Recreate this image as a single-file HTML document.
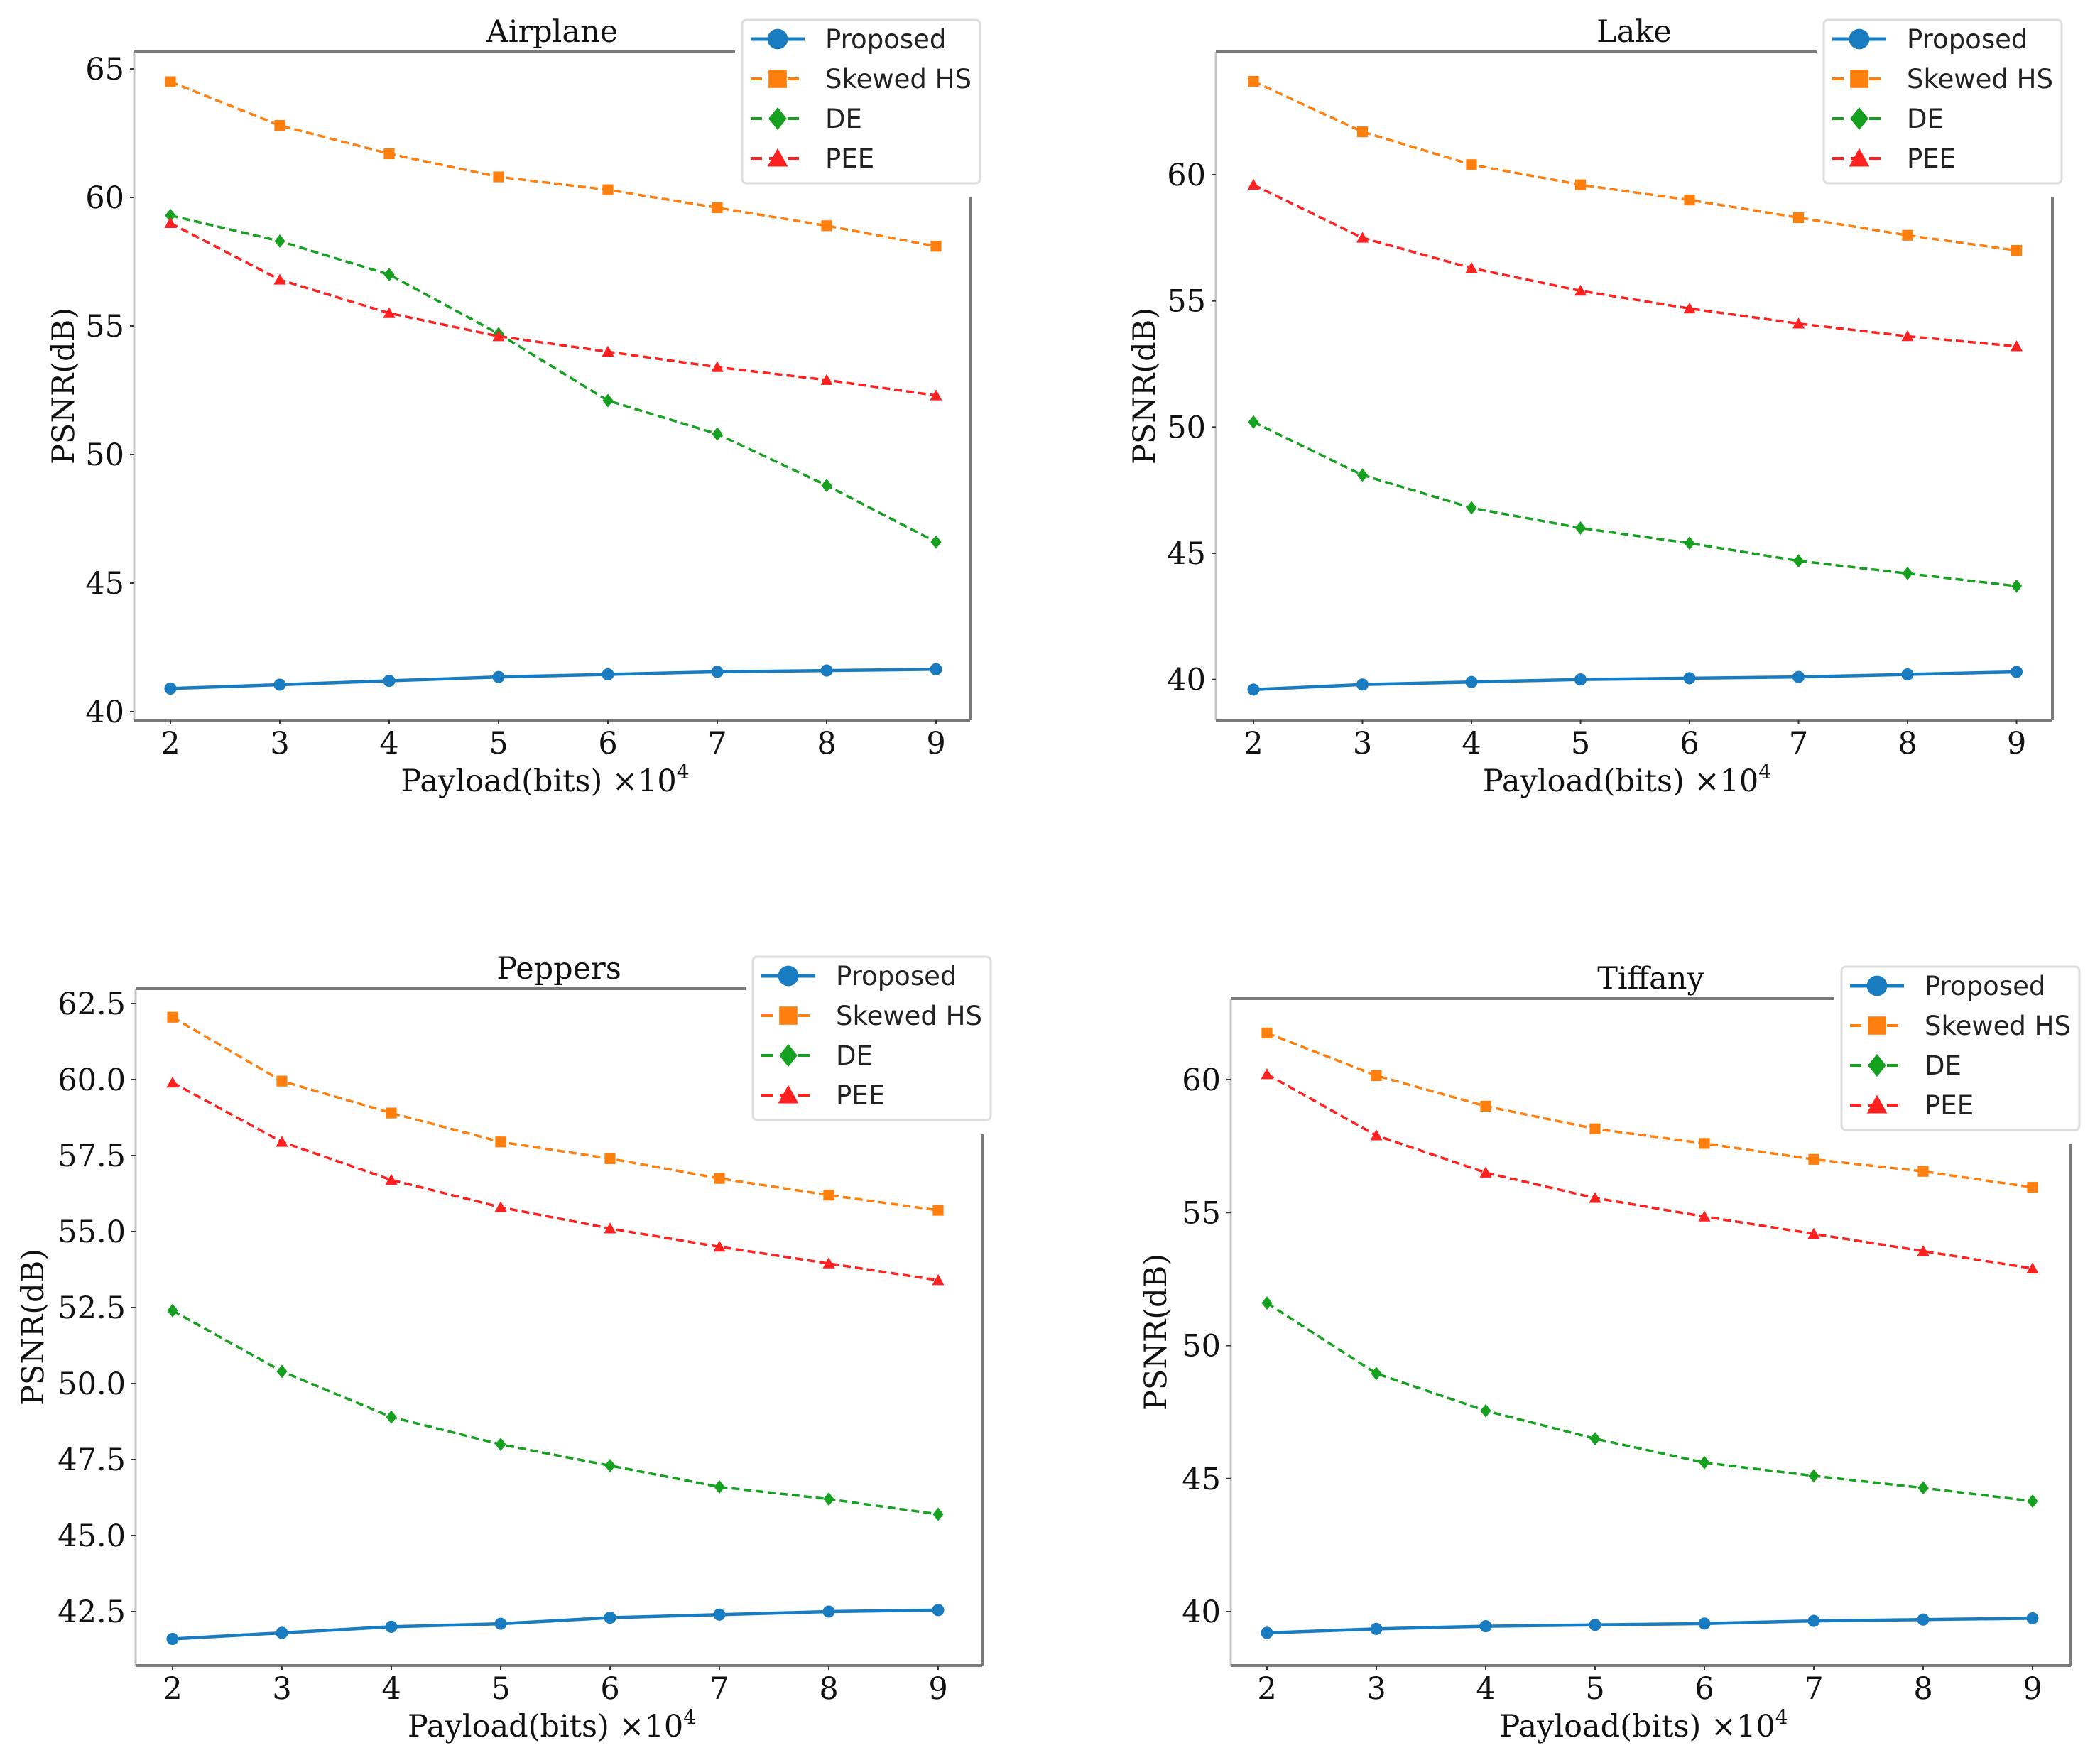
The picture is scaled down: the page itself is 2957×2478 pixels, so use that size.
<!DOCTYPE html>
<html><head><meta charset="utf-8"><style>
html,body{margin:0;padding:0;background:#fff}
svg{display:block}
.tick{font-family:"DejaVu Serif","Liberation Serif",serif;font-size:43px;fill:#111}
.lab{font-family:"DejaVu Serif","Liberation Serif",serif;font-size:43px;fill:#111}
.leg{font-family:"DejaVu Sans","Liberation Sans",sans-serif;font-size:37px;fill:#222}
</style></head><body>
<svg id="fig" xmlns="http://www.w3.org/2000/svg" width="2957" height="2478" viewBox="0 0 2957 2478"></svg>
<script>
const payloads=[2,3,4,5,6,7,8,9];
const seriesNames=["Proposed","Skewed HS","DE","PEE"];
const airplaneProposed=[40.9,41.05,41.2,41.35,41.45,41.55,41.6,41.65];
const airplaneSkewed=[64.5,62.8,61.7,60.8,60.3,59.6,58.9,58.1];
const airplaneDE=[59.3,58.3,57.0,54.7,52.1,50.8,48.8,46.6];
const airplanePEE=[59.0,56.8,55.5,54.6,54.0,53.4,52.9,52.3];
const lakeProposed=[39.6,39.8,39.9,40.0,40.05,40.1,40.2,40.3];
const lakeSkewed=[63.7,61.7,60.4,59.6,59.0,58.3,57.6,57.0];
const lakeDE=[50.2,48.1,46.8,46.0,45.4,44.7,44.2,43.7];
const lakePEE=[59.6,57.5,56.3,55.4,54.7,54.1,53.6,53.2];
const peppersProposed=[41.6,41.8,42.0,42.1,42.3,42.4,42.5,42.55];
const peppersSkewed=[62.05,59.95,58.9,57.95,57.4,56.75,56.2,55.7];
const peppersDE=[52.4,50.4,48.9,48.0,47.3,46.6,46.2,45.7];
const peppersPEE=[59.9,57.95,56.7,55.8,55.1,54.5,53.95,53.4];
const tiffanyProposed=[39.2,39.35,39.45,39.5,39.55,39.65,39.7,39.75];
const tiffanySkewed=[61.75,60.15,59.0,58.15,57.6,57.0,56.55,55.95];
const tiffanyDE=[51.6,48.95,47.55,46.5,45.6,45.1,44.65,44.15];
const tiffanyPEE=[60.2,57.9,56.5,55.55,54.85,54.2,53.55,52.9];
const airplaneTicks=[40,45,50,55,60,65];
const lakeTicks=[40,45,50,55,60];
const peppersTicks=[42.5,45.0,47.5,50.0,52.5,55.0,57.5,60.0,62.5];
const tiffanyTicks=[40,45,50,55,60];

const NS="http://www.w3.org/2000/svg";
const fig=document.getElementById('fig');
function mk(tag,attrs,parent){const e=document.createElementNS(NS,tag);for(const k in attrs)e.setAttribute(k,attrs[k]);(parent||fig).appendChild(e);return e;}
const colors=["#1a7cc0","#ff7f0e","#15a020","#ff2020"];

const charts=[
 {title:"Airplane",L:189,R:1366,T:73,B:1014,x2:240,dx:154,v1:65,p1:97,v2:40,p2:1002,ticks:airplaneTicks,dec:0,
  data:[airplaneProposed,airplaneSkewed,airplaneDE,airplanePEE],lg:[1045,28,335,230],ylx:90},
 {title:"Lake",L:1712,R:2890,T:73,B:1014,x2:1765,dx:153.5,v1:60,p1:246,v2:45,p2:779,ticks:lakeTicks,dec:0,
  data:[lakeProposed,lakeSkewed,lakeDE,lakePEE],lg:[2568,28,335,230],ylx:1612},
 {title:"Peppers",L:191,R:1383,T:1392,B:2345,x2:243,dx:154,v1:62.5,p1:1413,v2:60,p2:1520,ticks:peppersTicks,dec:1,
  data:[peppersProposed,peppersSkewed,peppersDE,peppersPEE],lg:[1060,1347,335,230],ylx:47},
 {title:"Tiffany",L:1733,R:2916,T:1406,B:2345,x2:1784,dx:154,v1:60,p1:1520,v2:40,p2:2269,ticks:tiffanyTicks,dec:0,
  data:[tiffanyProposed,tiffanySkewed,tiffanyDE,tiffanyPEE],lg:[2593,1361,335,230],ylx:1628}
];

function marker(g,k,x,y,s){
  let m;
  if(k===0){m=mk('circle',{cx:x,cy:y,r:9*s,fill:colors[0]},g);}
  else if(k===1){m=mk('rect',{x:x-8*s,y:y-8*s,width:16*s,height:16*s,fill:colors[1]},g);}
  else if(k===2){const r=10*s;m=mk('polygon',{points:`${x},${y-r} ${x+r*0.8},${y} ${x},${y+r} ${x-r*0.8},${y}`,fill:colors[2]},g);}
  else {const r=9*s;m=mk('polygon',{points:`${x},${y-r} ${x+r},${y+r*0.8} ${x-r},${y+r*0.8}`,fill:colors[3]},g);}
  return m;
}

charts.forEach((c,ci)=>{
  const g=mk('g',{});
  
  
  const sx=v=>c.x2+(v-2)*c.dx;
  const sy=v=>c.p1+(v-c.v1)*(c.p2-c.p1)/(c.v2-c.v1);
  const ls=mk('line',{x1:c.L,y1:c.T,x2:c.L,y2:c.B,stroke:"#c4c4c4","stroke-width":3},g);
  
  const bs=mk('line',{x1:c.L,y1:c.B,x2:c.R,y2:c.B,stroke:"#7a7a7a","stroke-width":4},g);
  
  const ts=mk('line',{x1:c.L,y1:c.T,x2:c.lg[0]-10,y2:c.T,stroke:"#7a7a7a","stroke-width":4},g);
  
  const rs=mk('line',{x1:c.R,y1:c.lg[1]+c.lg[3]+20,x2:c.R,y2:c.B,stroke:"#7a7a7a","stroke-width":4},g);
  
  c.ticks.forEach(t=>{
    const y=sy(t);
    mk('line',{x1:c.L-6,y1:y,x2:c.L,y2:y,stroke:"#333","stroke-width":2},g);
    const tx=mk('text',{x:c.L-14,y:y+15,"text-anchor":"end",class:"tick"},g);
    tx.textContent=t.toFixed(c.dec);
    
  });
  payloads.forEach(p=>{
    const x=sx(p);
    mk('line',{x1:x,y1:c.B,x2:x,y2:c.B+6,stroke:"#333","stroke-width":2},g);
    const tx=mk('text',{x:x,y:c.B+47,"text-anchor":"middle",class:"tick"},g);
    tx.textContent=p;
    
  });
  const midx=(c.L+c.R)/2-10;
  const xl=mk('text',{x:midx,y:c.B+100,"text-anchor":"middle",class:"lab"},g);
  xl.innerHTML='Payload(bits) ×10<tspan dy="-18" font-size="28">4</tspan>';
  
  const my=(c.T+c.B)/2;
  const yl=mk('text',{x:c.ylx,y:my,"text-anchor":"middle",class:"lab",transform:`rotate(-90 ${c.ylx} ${my})`,"dominant-baseline":"central"},g);
  yl.textContent='PSNR(dB)';
  
  const tt=mk('text',{x:(c.L+c.R)/2,y:c.T-14,"text-anchor":"middle",class:"lab","font-size":"41px"},g);
  tt.textContent=c.title;
  
  c.data.forEach((arr,k)=>{
    const pts=arr.map((v,i)=>sx(payloads[i])+','+sy(v)).join(' ');
    const pl=mk('polyline',{points:pts,fill:"none",stroke:colors[k],"stroke-width":k===0?4.5:3.5,"stroke-dasharray":k===0?"none":"11 6"},g);
    
    
    arr.forEach((v,i)=>{
      const m=marker(g,k,sx(payloads[i]),sy(v),0.95);
      
      
    });
  });
  const [lx,ly,lw,lh]=c.lg;
  const lgG=mk('g',{},g);
  
  mk('rect',{x:lx,y:ly,width:lw,height:lh,rx:6,fill:"#fff",stroke:"#ddd","stroke-width":3},lgG);
  seriesNames.forEach((n,k)=>{
    const y=ly+27+k*56;
    const e=mk('g',{},lgG);
    
    mk('line',{x1:lx+12,y1:y,x2:lx+88,y2:y,stroke:colors[k],"stroke-width":k===0?5:4,"stroke-dasharray":k===0?"none":"16 10"},e);
    marker(e,k,lx+50,y,1.6);
    const t=mk('text',{x:lx+117,y:y+13,class:"leg"},e);
    t.textContent=n;
  });
});
</script>
</body></html>
